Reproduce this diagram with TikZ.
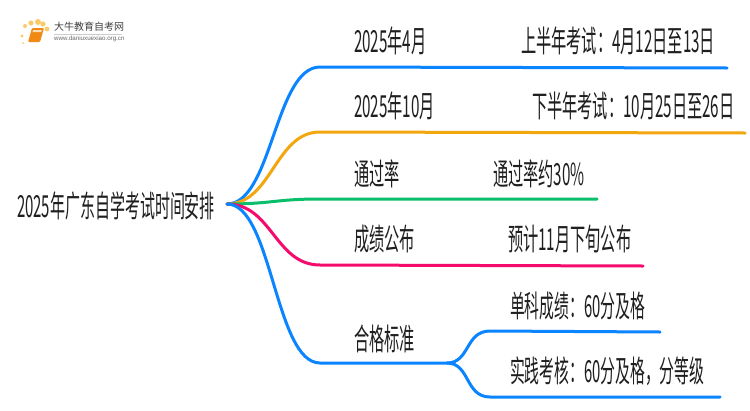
\documentclass[tikz,border=0pt]{standalone}
\usepackage{fontspec}
\setmainfont{Liberation Sans}
\newfontfamily\cjk[FakeStretch=0.5]{Noto Sans CJK SC}
\newfontfamily\cjktitle[FakeStretch=0.4925]{Noto Sans CJK SC}
\newfontfamily\cjksub[FakeStretch=0.488]{Noto Sans CJK SC}
\newfontfamily\logofont{Noto Sans CJK SC}
\definecolor{branchblue}{HTML}{0A84FF}
\definecolor{branchorange}{HTML}{F2A70F}
\definecolor{branchgreen}{HTML}{0ABF6B}
\definecolor{branchpink}{HTML}{F50A6E}
\definecolor{bookorange}{HTML}{F08A14}
\definecolor{dotyellow}{HTML}{FBCB6A}
\tikzset{
  label/.style={inner sep=0pt, outer sep=0pt, anchor=west, font=\cjk\fontsize{30.4}{32}\selectfont, text=black!88},
  titlelabel/.style={label, font=\cjktitle\fontsize{30.4}{32}\selectfont},
  sublabel/.style={label, font=\cjksub\fontsize{30.4}{32}\selectfont},
  branch/.style={line width=3pt, line cap=round},
  dot/.style={circle, fill=dotyellow, inner sep=0pt},
}
\begin{document}
\begin{tikzpicture}[x=1pt, y=-1pt]

  \useasboundingbox (0,0) rectangle (750,410);
  \fill [white] (0,0) rectangle (750,410);

  \coordinate (root) at (227,204);
  \coordinate (timeA) at (320,67);
  \coordinate (timeAend) at (727,68);
  \coordinate (timeB) at (320,132);
  \coordinate (timeBend) at (745,133);
  \coordinate (rate) at (320,199);
  \coordinate (rateEnd) at (597,199);
  \coordinate (score) at (320,265);
  \coordinate (scoreEnd) at (643,266);
  \coordinate (pass) at (320,363);
  \coordinate (passFork) at (447,363);
  \coordinate (subA) at (490,331);
  \coordinate (subAend) at (660,332);
  \coordinate (subB) at (490,397);
  \coordinate (subBend) at (720,397);

  \node [titlelabel] (title) at (17,206) {2025年广东自学考试时间安排};
  \node [label] (timeAlabel) at (354,41) {2025年4月};
  \node [label] (timeAtext) at (521,41) {上半年考试：4月12日至13日};
  \node [label] (timeBlabel) at (354,106) {2025年10月};
  \node [label] (timeBtext) at (532,106) {下半年考试：10月25日至26日};
  \node [label] (ratelabel) at (354,174) {通过率};
  \node [label] (ratetext) at (493,174) {通过率约30\%};
  \node [label] (scorelabel) at (354,239) {成绩公布};
  \node [label] (scoretext) at (508,239) {预计11月下旬公布};
  \node [label] (passlabel) at (354,339) {合格标准};
  \node [sublabel] (subAtext) at (510,306) {单科成绩：60分及格};
  \node [sublabel] (subBtext) at (510,371) {实践考核：60分及格，分等级};

  \draw [branch, branchblue] (root) .. controls (272,204) and (275,67) .. (timeA) -- (timeAend);
  \draw [branch, branchorange] (root) .. controls (272,204) and (275,132) .. (timeB) -- (timeBend);
  \draw [branch, branchgreen] (root) .. controls (272,204) and (275,199) .. (rate) -- (rateEnd);
  \draw [branch, branchpink] (root) .. controls (272,204) and (275,265) .. (score) -- (scoreEnd);
  \draw [branch, branchblue] (root) .. controls (272,204) and (275,363) .. (pass) -- (passFork);
  \draw [branch, branchblue] (passFork) .. controls (470,363) and (465,331) .. (subA) -- (subAend);
  \draw [branch, branchblue] (passFork) .. controls (470,363) and (465,397) .. (subB) -- (subBend);

  \foreach \x/\y/\r in {23/43/1, 22/36/1.6, 25/26/2, 31/23/2.6, 38/22/3, 43/24/2.6, 47/29/2.4} {
    \node [dot, minimum size=2*\r pt] at (\x,\y) {};
  }
  \fill [bookorange, rounded corners=1pt] (32,28) -- (44,28) -- (40,42) -- (28,42) -- cycle;
  \fill [white!70!bookorange] (33,30) -- (42,30) -- (41,32) -- (32.5,32) -- cycle;
  \node [inner sep=0pt, anchor=west, font=\logofont\fontsize{10}{12}\selectfont, text=black!75] (logotitle) at (54,27) {大牛教育自考网};
  \node [inner sep=0pt, anchor=west, font=\fontsize{6.2}{8}\selectfont, text=black!60] (logourl) at (54,39) {www.daniuxuexiao.org.cn};
  \draw [black!20, line width=.5pt] (logotitle.south west) ++(0,2) -- ++(68,0);

\end{tikzpicture}
\end{document}
